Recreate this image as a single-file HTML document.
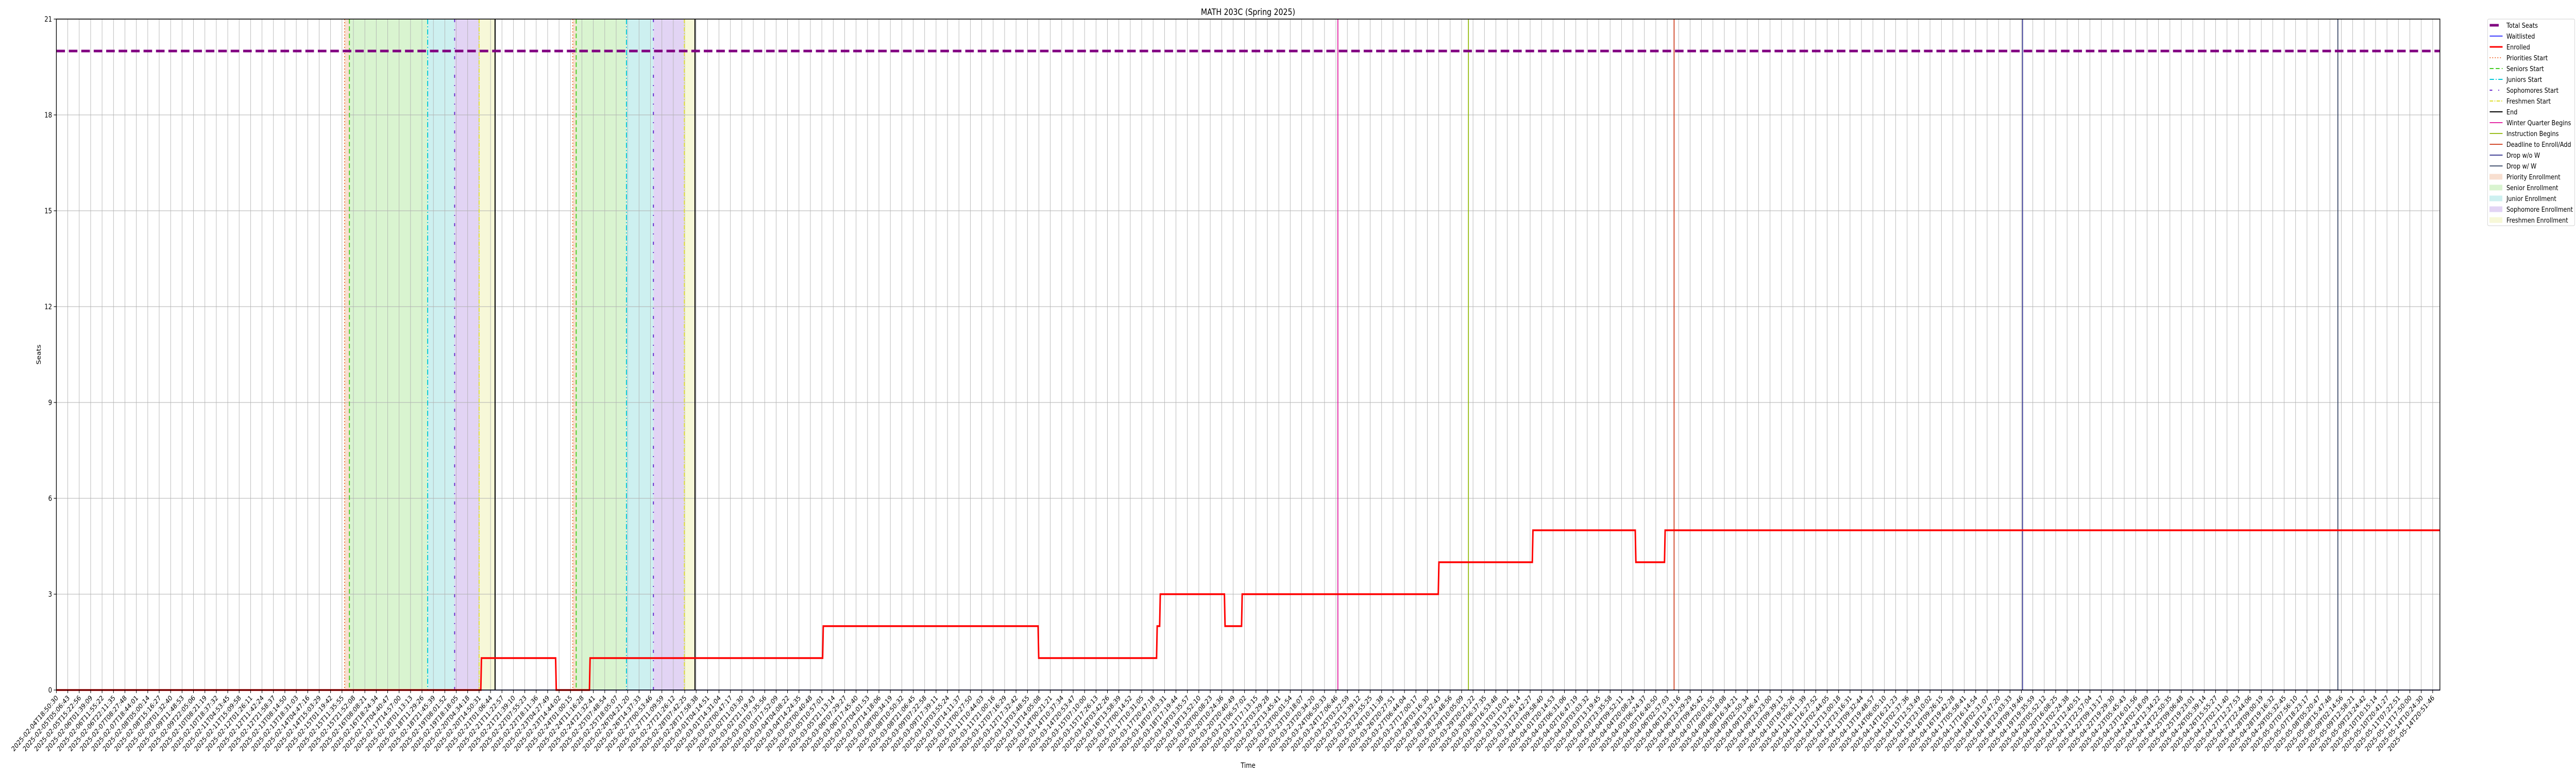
<!DOCTYPE html>
<html><head><meta charset="utf-8"><title>MATH 203C (Spring 2025)</title>
<style>
html,body{margin:0;padding:0;background:#fff;width:100%;height:100%;overflow:hidden;}
#wrap{position:fixed;left:0;top:0;width:100vw;height:100vh;overflow:hidden;}
svg{display:block;width:100vw;height:100vh;font-family:"DejaVu Sans","Liberation Sans",sans-serif;}
</style></head>
<body>
<div id="wrap">
<svg id="chart" viewBox="0 0 6000 1500" preserveAspectRatio="none" xmlns="http://www.w3.org/2000/svg">
<rect x="0" y="0" width="6000" height="1500" fill="#fff"/>
<g id="bands"></g>
<g id="grid"></g>
<g id="events"></g>
<g id="series"></g>
<g id="axes"></g>
<text x="2907" y="29" font-size="17" text-anchor="middle">MATH 203C (Spring 2025)</text>
<text x="2907" y="1490" font-size="14" text-anchor="middle">Time</text>
<text x="0" y="0" font-size="14" text-anchor="middle" transform="translate(95,688) rotate(-90)">Seats</text>
<g id="legend"></g>
</svg>
</div>
<script>
// ---- data ----
const tickCount = 209;
const tickStart = "2025-02-04T18:50:30";
const tickStepSeconds = 36973;
const lastTickLabels = ["2025-05-07T07:56:10","2025-05-07T18:23:17","2025-05-08T05:20:47","2025-05-08T15:47:48","2025-05-09T02:14:56","2025-05-09T12:58:21","2025-05-09T23:24:42","2025-05-10T10:15:14","2025-05-10T20:41:27","2025-05-11T07:22:51","2025-05-11T17:50:00","2025-05-14T10:24:30","2025-05-14T20:51:46"];
const yTicks = [0,3,6,9,12,15,18,21];
const totalSeats = 20;
const enrolledX = [0, 37.15, 43.7, 46.66, 67.07, 85.93, 96.3, 96.57, 102.24, 103.74, 120.96, 129.19, 138.2, 140.76, 208.6];
const enrolledY = [0, 1, 0, 1, 2, 1, 2, 3, 2, 3, 4, 5, 4, 5, 5];
const waitlistedX = [0, 208.6];
const waitlistedY = [0, 0];
const windowStarts = [[25.23,25.65,32.5,34.86,37.0],[45.2,45.5,49.9,52.26,54.97]];
const windowEnds = [38.4, 55.9];
const eventNames = ["Winter Quarter Begins","Instruction Begins","Deadline to Enroll/Add","Drop w/o W","Drop w/ W"];
const eventX = [112.17, 123.6, 141.6, 172.1, 199.7];

// ---- layout ----
const NS="http://www.w3.org/2000/svg";
const L=131.3, R=5683, T=37, B=1339, step=26.61;
const xS = i => L + i*step;
const yS = v => B - v*(B-T)/21;
function mk(tag, attrs, parent){const e=document.createElementNS(NS,tag);for(const k in attrs)e.setAttribute(k,attrs[k]);parent.appendChild(e);return e;}
const g = id => document.getElementById(id);

const startColors = ["#ee6a2e","#44cc22","#00c8d8","#6622cc","#dede30"];
const startDash = ["2,4","9,5","10,4,2,4","6,14,2,14","8,3,2,3"];
const bandColors = ["#f8dfd0","#d9f4d0","#cdf0f0","#e2d4f4","#f7f8d8"];
const bandNames = ["priority","senior","junior","sophomore","freshmen"];
const eventColors = ["#e0109a","#8db600","#cc3311","#2a2a8a","#2f3f60"];

// bands
windowStarts.forEach((ws,w)=>{
  ws.forEach((s,k)=>{
    const e = k<4 ? ws[k+1] : windowEnds[w];
    const r = mk('rect',{x:xS(s),y:T,width:xS(e)-xS(s),height:B-T,fill:bandColors[k]},g('bands'));
    
    
  });
});

// grid
for(let i=0;i<tickCount;i++){
  const l=mk('line',{x1:xS(i),x2:xS(i),y1:T,y2:B,stroke:"#b0b0b0","stroke-width":1},g('grid'));
  
  
}
yTicks.forEach(v=>{
  const l=mk('line',{x1:L,x2:R,y1:yS(v),y2:yS(v),stroke:"#b0b0b0","stroke-width":1},g('grid'));
  
  
});

// window start lines
windowStarts.forEach((ws,w)=>{
  ws.forEach((s,k)=>{
    const l=mk('line',{x1:xS(s),x2:xS(s),y1:T,y2:B,stroke:startColors[k],"stroke-width":2.2,"stroke-dasharray":startDash[k]},g('events'));
    
    
  });
  const l=mk('line',{x1:xS(windowEnds[w]),x2:xS(windowEnds[w]),y1:T,y2:B,stroke:"#000","stroke-width":2.5},g('events'));
  
  
});
eventX.forEach((x,k)=>{
  const l=mk('line',{x1:xS(x),x2:xS(x),y1:T,y2:B,stroke:eventColors[k],"stroke-width":2},g('events'));
  
  
});

// series
const ts=mk('line',{x1:L,x2:R,y1:yS(totalSeats),y2:yS(totalSeats),stroke:"#800080","stroke-width":5,"stroke-dasharray":"20,9"},g('series'));


function stepPath(xs,ys){let d='M'+xS(xs[0])+','+yS(ys[0]);for(let i=1;i<xs.length;i++){d+=' L'+xS(xs[i])+','+yS(ys[i-1])+' L'+(xS(xs[i])+1.5)+','+yS(ys[i]);}return d;}
const wl=mk('path',{d:stepPath(waitlistedX,waitlistedY),fill:"none",stroke:"#0000ff","stroke-width":1.5},g('series'));


const en=mk('path',{d:stepPath(enrolledX,enrolledY),fill:"none",stroke:"#ff0000","stroke-width":3.5,"stroke-linejoin":"miter"},g('series'));



// axes
const frame=mk('rect',{x:L,y:T,width:R-L,height:B-T,fill:"none",stroke:"#000","stroke-width":1.6},g('axes'));


const t0=new Date(tickStart+"Z").getTime();
function fmt(ms){return new Date(ms).toISOString().slice(0,19);}
for(let i=0;i<tickCount;i++){
  const x=xS(i);
  const tk=mk('line',{x1:x,x2:x,y1:B,y2:B+6,stroke:"#000","stroke-width":1.2},g('axes'));
  
  
  const j=i-(tickCount-lastTickLabels.length);
  const lab = j>=0 ? lastTickLabels[j] : fmt(t0+i*tickStepSeconds*1000);
  const t=mk('text',{"font-size":13.5,"text-anchor":"end",transform:`translate(${x+5},${B+16}) rotate(-45)`},g('axes'));
  
  
  t.textContent=lab;
}
yTicks.forEach(v=>{
  const tk=mk('line',{x1:L-6,x2:L,y1:yS(v),y2:yS(v),stroke:"#000","stroke-width":1.2},g('axes'));
  
  
  const t=mk('text',{x:L-10,y:yS(v)+5,"font-size":14,"text-anchor":"end"},g('axes'));
  
  
  t.textContent=v;
});

// legend
const lg=g('legend');
const box=mk('rect',{x:5794,y:37,width:203,height:401,fill:"#fff",stroke:"#d0d0d0","stroke-width":1,rx:3},lg);


const legendItems=[
 {n:"Total Seats",t:"line",c:"#800080",w:5,d:""},
 {n:"Waitlisted",t:"line",c:"#0000ff",w:1.5,d:""},
 {n:"Enrolled",t:"line",c:"#ff0000",w:3,d:""},
 {n:"Priorities Start",t:"line",c:startColors[0],w:2,d:startDash[0]},
 {n:"Seniors Start",t:"line",c:startColors[1],w:2,d:startDash[1]},
 {n:"Juniors Start",t:"line",c:startColors[2],w:2,d:startDash[2]},
 {n:"Sophomores Start",t:"line",c:startColors[3],w:2,d:startDash[3]},
 {n:"Freshmen Start",t:"line",c:startColors[4],w:2,d:startDash[4]},
 {n:"End",t:"line",c:"#000",w:2,d:""},
 {n:"Winter Quarter Begins",t:"line",c:eventColors[0],w:1.8,d:""},
 {n:"Instruction Begins",t:"line",c:eventColors[1],w:1.8,d:""},
 {n:"Deadline to Enroll/Add",t:"line",c:eventColors[2],w:1.8,d:""},
 {n:"Drop w/o W",t:"line",c:eventColors[3],w:1.8,d:""},
 {n:"Drop w/ W",t:"line",c:eventColors[4],w:1.8,d:""},
 {n:"Priority Enrollment",t:"patch",c:bandColors[0]},
 {n:"Senior Enrollment",t:"patch",c:bandColors[1]},
 {n:"Junior Enrollment",t:"patch",c:bandColors[2]},
 {n:"Sophomore Enrollment",t:"patch",c:bandColors[3]},
 {n:"Freshmen Enrollment",t:"patch",c:bandColors[4]}
];
legendItems.forEach((it,k)=>{
  const y=49+k*21;
  const ge=mk('g',{},lg);
  
  
  if(it.t==="line"){
    const a={x1:5799,x2:5829,y1:y,y2:y,stroke:it.c,"stroke-width":it.w};
    if(it.d)a["stroke-dasharray"]=it.d;
    if(k===0){a.x2=5820;}
    mk('line',a,ge);
  }else{
    mk('rect',{x:5799,y:y-5,width:29,height:10,fill:it.c,stroke:it.c,"stroke-width":1},ge);
  }
  const t=mk('text',{x:5838,y:y+5,"font-size":13.5},ge);
  t.textContent=it.n;
});
</script>
</body></html>
